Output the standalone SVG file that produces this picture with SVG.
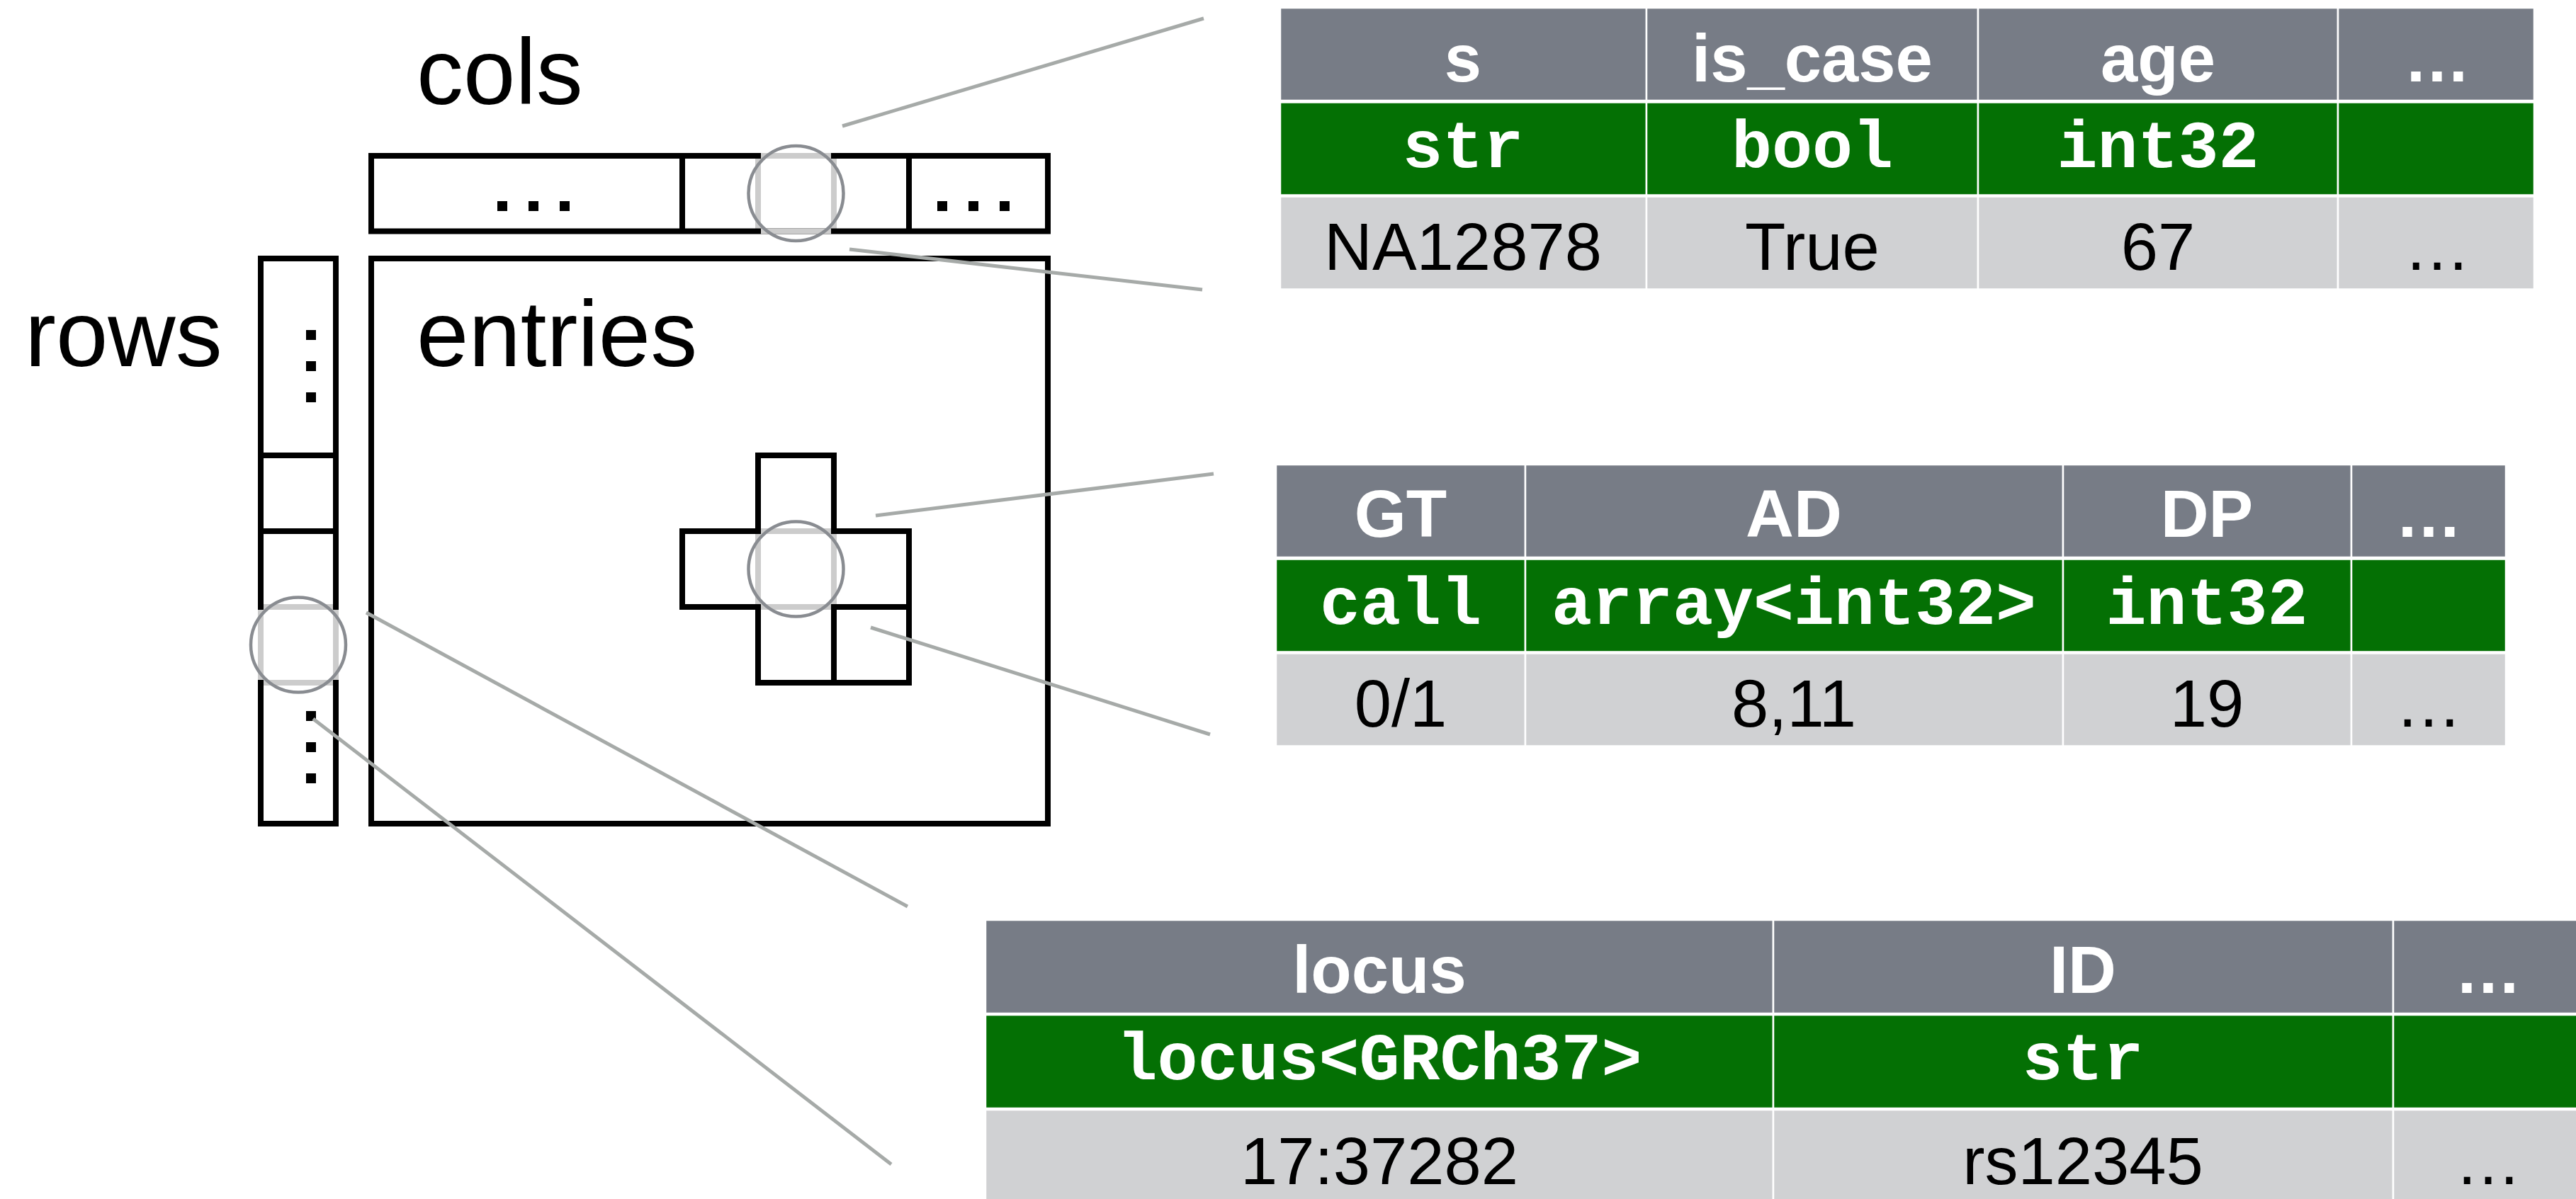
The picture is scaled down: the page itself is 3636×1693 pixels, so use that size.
<svg xmlns="http://www.w3.org/2000/svg" width="3636" height="1693" viewBox="0 0 3636 1693">
<style>
.lbl{font-family:"Liberation Sans",Arial,sans-serif;font-size:132px;fill:#000}
.blk{fill:none;stroke:#000;stroke-width:8}
.hl{stroke:#cccccc;stroke-width:8;fill:none;stroke-linecap:butt}
.ring{fill:none;stroke:#898c91;stroke-width:4.5}
.dot{fill:#000}
.hd{fill:#777c86;stroke:#fff;stroke-width:2.5}
.ty{fill:#047004;stroke:#fff;stroke-width:2.5}
.vl{fill:#d0d1d3;stroke:#fff;stroke-width:2.5}
.th{font-family:"Liberation Sans",Arial,sans-serif;font-weight:bold;font-size:94px;fill:#fff;text-anchor:middle}
.tt{font-family:"Liberation Mono","Courier New",monospace;font-weight:bold;font-size:95px;fill:#fff;text-anchor:middle}
.tv{font-family:"Liberation Sans",Arial,sans-serif;font-size:94px;fill:#000;text-anchor:middle}
.conn{stroke:#a6aaa8;stroke-width:5;fill:none}
</style>
<rect width="3636" height="1693" fill="#fff"/>

<g id="labels">
<text class="lbl" x="588" y="147">cols</text>
<text class="lbl" x="35" y="517">rows</text>
<text class="lbl" x="588" y="517">entries</text>
</g>

<g id="cols-bar">
<rect class="blk" x="524" y="220" width="955" height="106.5"/>
<line class="blk" x1="963" y1="220" x2="963" y2="326.5"/>
<line class="blk" x1="1070" y1="220" x2="1070" y2="326.5"/>
<line class="blk" x1="1177" y1="220" x2="1177" y2="326.5"/>
<line class="blk" x1="1283" y1="220" x2="1283" y2="326.5"/>
<rect class="dot" x="702" y="284" width="14" height="14"/>
<rect class="dot" x="746" y="284" width="14" height="14"/>
<rect class="dot" x="790" y="284" width="14" height="14"/>
<rect class="dot" x="1323" y="284" width="14" height="14"/>
<rect class="dot" x="1367" y="284" width="14" height="14"/>
<rect class="dot" x="1411" y="284" width="14" height="14"/>
<path class="hl" d="M1074 220H1173M1074 326.5H1173M1070 224V322.5M1177 224V322.5"/>
<circle class="ring" cx="1123.5" cy="273" r="67"/>
</g>

<g id="rows-bar">
<rect class="blk" x="368" y="365" width="106" height="798"/>
<line class="blk" x1="368" y1="643" x2="474" y2="643"/>
<line class="blk" x1="368" y1="750" x2="474" y2="750"/>
<line class="blk" x1="368" y1="857" x2="474" y2="857"/>
<line class="blk" x1="368" y1="964" x2="474" y2="964"/>
<rect class="dot" x="432" y="466" width="14" height="14"/>
<rect class="dot" x="432" y="510" width="14" height="14"/>
<rect class="dot" x="432" y="554" width="14" height="14"/>
<rect class="dot" x="432" y="1004" width="14" height="14"/>
<rect class="dot" x="432" y="1048" width="14" height="14"/>
<rect class="dot" x="432" y="1092" width="14" height="14"/>
<path class="hl" d="M372 857H470M372 964H470M368 861V960M474 861V960"/>
<circle class="ring" cx="421" cy="910.5" r="67"/>
</g>

<g id="entries">
<rect class="blk" x="524" y="365" width="955" height="798"/>
<rect class="blk" x="1070" y="643" width="107" height="107"/>
<rect class="blk" x="963" y="750" width="107" height="107"/>
<rect class="blk" x="1177" y="750" width="106" height="107"/>
<rect class="blk" x="1070" y="857" width="107" height="107"/>
<rect class="blk" x="1177" y="857" width="106" height="107"/>
<path class="hl" d="M1074 750H1173M1074 857H1173M1070 754V853M1177 754V853"/>
<circle class="ring" cx="1123.5" cy="803.5" r="67"/>
</g>

<g id="connectors">
<line class="conn" x1="1189" y1="178" x2="1699" y2="26"/>
<line class="conn" x1="1199" y1="352" x2="1697" y2="409"/>
<line class="conn" x1="1236" y1="728" x2="1713" y2="669"/>
<line class="conn" x1="1229" y1="886" x2="1708" y2="1037"/>
<line class="conn" x1="517" y1="865" x2="1281" y2="1280"/>
<line class="conn" x1="442" y1="1015" x2="1258" y2="1644"/>
</g>

<g id="table-cols">
<rect class="hd" x="1807" y="11" width="517" height="131"/>
<rect class="hd" x="2324" y="11" width="468" height="131"/>
<rect class="hd" x="2792" y="11" width="508" height="131"/>
<rect class="hd" x="3300" y="11" width="277" height="131"/>
<rect class="ty" x="1807" y="144.5" width="517" height="131"/>
<rect class="ty" x="2324" y="144.5" width="468" height="131"/>
<rect class="ty" x="2792" y="144.5" width="508" height="131"/>
<rect class="ty" x="3300" y="144.5" width="277" height="131"/>
<rect class="vl" x="1807" y="277.5" width="517" height="131"/>
<rect class="vl" x="2324" y="277.5" width="468" height="131"/>
<rect class="vl" x="2792" y="277.5" width="508" height="131"/>
<rect class="vl" x="3300" y="277.5" width="277" height="131"/>
<text class="th" x="2065" y="115">s</text>
<text class="th" x="2558" y="115">is_case</text>
<text class="th" x="3046" y="115">age</text>
<text class="th" x="3440" y="115">…</text>
<text class="tt" x="2065" y="236">str</text>
<text class="tt" x="2558" y="236">bool</text>
<text class="tt" x="3046" y="236">int32</text>
<text class="tv" x="2065" y="381">NA12878</text>
<text class="tv" x="2558" y="381">True</text>
<text class="tv" x="3046" y="381">67</text>
<text class="tv" x="3440" y="381">…</text>
</g>

<g id="table-entries">
<rect class="hd" x="1801" y="656" width="352" height="131"/>
<rect class="hd" x="2153" y="656" width="759" height="131"/>
<rect class="hd" x="2912" y="656" width="407" height="131"/>
<rect class="hd" x="3319" y="656" width="218" height="131"/>
<rect class="ty" x="1801" y="789.5" width="352" height="131"/>
<rect class="ty" x="2153" y="789.5" width="759" height="131"/>
<rect class="ty" x="2912" y="789.5" width="407" height="131"/>
<rect class="ty" x="3319" y="789.5" width="218" height="131"/>
<rect class="vl" x="1801" y="922.5" width="352" height="131"/>
<rect class="vl" x="2153" y="922.5" width="759" height="131"/>
<rect class="vl" x="2912" y="922.5" width="407" height="131"/>
<rect class="vl" x="3319" y="922.5" width="218" height="131"/>
<text class="th" x="1977" y="758">GT</text>
<text class="th" x="2532" y="758">AD</text>
<text class="th" x="3115" y="758">DP</text>
<text class="th" x="3428" y="758">…</text>
<text class="tt" x="1977" y="881">call</text>
<text class="tt" x="2532" y="881">array&lt;int32&gt;</text>
<text class="tt" x="3115" y="881">int32</text>
<text class="tv" x="1977" y="1026">0/1</text>
<text class="tv" x="2532" y="1026">8,11</text>
<text class="tv" x="3115" y="1026">19</text>
<text class="tv" x="3428" y="1026">…</text>
</g>

<g id="table-rows">
<rect class="hd" x="1391" y="1299" width="1112" height="132"/>
<rect class="hd" x="2503" y="1299" width="875" height="132"/>
<rect class="hd" x="3378" y="1299" width="270" height="132"/>
<rect class="ty" x="1391" y="1433" width="1112" height="132"/>
<rect class="ty" x="2503" y="1433" width="875" height="132"/>
<rect class="ty" x="3378" y="1433" width="270" height="132"/>
<rect class="vl" x="1391" y="1567" width="1112" height="140"/>
<rect class="vl" x="2503" y="1567" width="875" height="140"/>
<rect class="vl" x="3378" y="1567" width="270" height="140"/>
<text class="th" x="1947" y="1402">locus</text>
<text class="th" x="2940" y="1402">ID</text>
<text class="th" x="3512" y="1402">…</text>
<text class="tt" x="1947" y="1524">locus&lt;GRCh37&gt;</text>
<text class="tt" x="2940" y="1524">str</text>
<text class="tv" x="1947" y="1672">17:37282</text>
<text class="tv" x="2940" y="1672">rs12345</text>
<text class="tv" x="3512" y="1672">…</text>
</g>
</svg>
